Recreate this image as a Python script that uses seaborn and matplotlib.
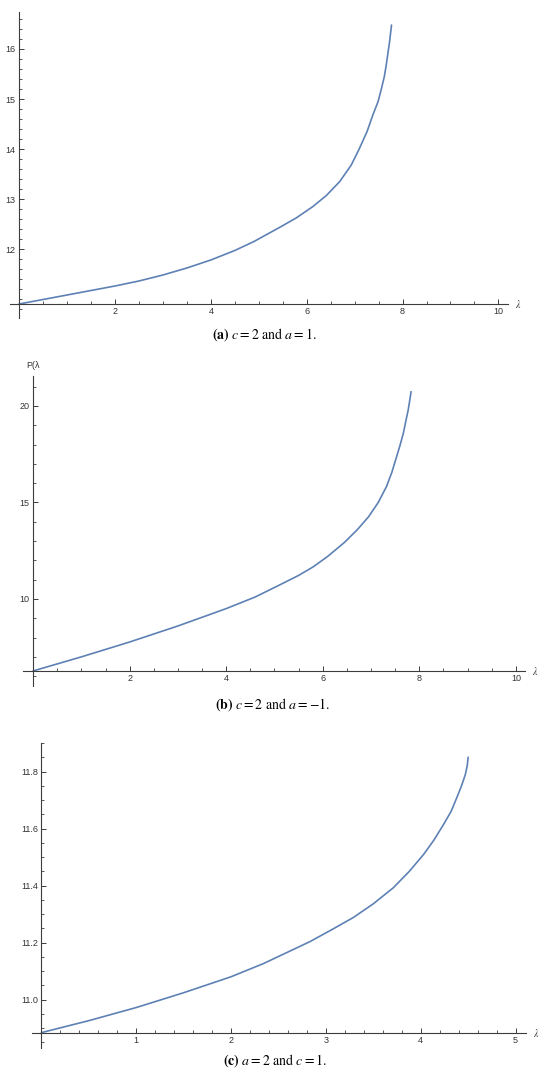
import matplotlib
matplotlib.use("Agg")
import matplotlib.pyplot as plt
import matplotlib.ticker as mticker
import matplotlib.transforms as mtransforms
import seaborn as sns

# Courbe (a) : c = 2, a = 1
lam_a = [0, 1, 2, 2.5, 3, 3.5, 4, 4.5, 4.9, 5.45, 5.78, 6.13, 6.41, 6.69, 6.93, 7.10, 7.26, 7.38,
         7.49, 7.56, 7.62, 7.66, 7.70, 7.73, 7.77]
p_a = [10.9, 11.08, 11.26, 11.36, 11.48, 11.62, 11.78, 11.97, 12.15, 12.44, 12.62, 12.85, 13.07,
       13.35, 13.68, 14.01, 14.35, 14.68, 14.95, 15.21, 15.45, 15.68, 15.95, 16.15, 16.48]

# Courbe (b) : c = 2, a = -1
lam_b = [0, 1, 2, 3, 4, 4.6, 5.11, 5.5, 5.80, 6.1, 6.45, 6.72, 6.95, 7.15, 7.32, 7.43, 7.53,
         7.60, 7.67, 7.72, 7.77, 7.80, 7.83]
p_b = [6.27, 7.0, 7.77, 8.6, 9.5, 10.1, 10.73, 11.22, 11.66, 12.2, 12.93, 13.6, 14.26, 15.0,
       15.82, 16.55, 17.37, 17.95, 18.59, 19.2, 19.79, 20.25, 20.74]

# Courbe (c) : a = 2, c = 1
lam_c = [0, 0.5, 1, 1.5, 2, 2.34, 2.83, 3.05, 3.29, 3.5, 3.71, 3.88, 4.03, 4.14, 4.24, 4.32,
         4.38, 4.43, 4.47, 4.49, 4.50]
p_c = [10.884, 10.926, 10.972, 11.024, 11.08, 11.126, 11.203, 11.243, 11.288, 11.336, 11.392,
       11.45, 11.509, 11.56, 11.614, 11.66, 11.708, 11.75, 11.789, 11.82, 11.85]

captions = [r"$\mathbf{(a)}\ c = 2\ \mathrm{and}\ a = 1.$",
            r"$\mathbf{(b)}\ c = 2\ \mathrm{and}\ a = -1.$",
            r"$\mathbf{(c)}\ a = 2\ \mathrm{and}\ c = 1.$"]

sns.set_theme(style="white")
plt.rcParams["font.family"] = ["Liberation Sans", "DejaVu Sans"]
plt.rcParams["mathtext.fontset"] = "stix"

W, H = 550, 1083
fig = plt.figure(figsize=(W / 100, H / 100), dpi=100)

line_color = "#5E81B5"
axis_color = "#3c3c3c"


def make_axes(left, right, top, bottom):
    return fig.add_axes([left / W, 1 - bottom / H, (right - left) / W, (bottom - top) / H])


panels = [
    dict(x=lam_a, y=p_a, box=(10, 508, 12, 318), xlim=(-0.19, 10.2), ylim=(10.62, 16.74), y0=10.9,
         xmaj=[2, 4, 6, 8, 10], xmin=0.5, ymaj=[12, 13, 14, 15, 16], ymin=0.2, fmt="%d", cap=(264, 335)),
    dict(x=lam_b, y=p_b, box=(23, 525, 376, 686), xlim=(-0.21, 10.19), ylim=(5.49, 21.55), y0=6.27,
         xmaj=[2, 4, 6, 8, 10], xmin=0.5, ymaj=[10, 15, 20], ymin=1, fmt="%d", cap=(273, 705)),
    dict(x=lam_c, y=p_c, box=(32, 526, 743, 1048), xlim=(-0.1, 5.11), ylim=(10.83, 11.90), y0=10.884,
         xmaj=[1, 2, 3, 4, 5], xmin=0.2, ymaj=[11.0, 11.2, 11.4, 11.6, 11.8], ymin=0.05, fmt="%.1f", cap=(275, 1061)),
]

for i, p in enumerate(panels):
    ax = make_axes(*p["box"])
    sns.lineplot(x=p["x"], y=p["y"], ax=ax, color=line_color, linewidth=1.2)
    ax.set_xlim(*p["xlim"])
    ax.set_ylim(*p["ylim"])

    for s in ["top", "right"]:
        ax.spines[s].set_visible(False)
    ax.spines["left"].set_position(("data", 0))
    ax.spines["bottom"].set_position(("data", p["y0"]))
    for s in ["left", "bottom"]:
        ax.spines[s].set_color(axis_color)
        ax.spines[s].set_linewidth(0.8)

    ax.xaxis.set_major_locator(mticker.FixedLocator(p["xmaj"]))
    ax.xaxis.set_minor_locator(mticker.MultipleLocator(p["xmin"]))
    ax.yaxis.set_major_locator(mticker.FixedLocator(p["ymaj"]))
    ax.yaxis.set_minor_locator(mticker.MultipleLocator(p["ymin"]))
    ax.xaxis.set_major_formatter(mticker.FormatStrFormatter("%d"))
    ax.yaxis.set_major_formatter(mticker.FormatStrFormatter(p["fmt"]))

    ax.tick_params(which="both", bottom=True, left=True, top=False, right=False)
    ax.tick_params(which="major", direction="in", length=3.5, width=0.7, colors=axis_color,
                   labelsize=6.5, labelcolor="#333333", pad=2.5)
    ax.tick_params(which="minor", direction="in", length=2, width=0.6, colors=axis_color)
    ax.set_xlabel("")
    ax.set_ylabel("")
    ax.grid(False)
    ax.patch.set_alpha(0)

    trans = mtransforms.blended_transform_factory(ax.transAxes, ax.transData)
    ax.annotate(r"$\lambda$", xy=(1, p["y0"]), xycoords=trans, xytext=(7, 0),
                textcoords="offset points", ha="center", va="center", fontsize=7, color="#333333")

    fig.text(p["cap"][0] / W, 1 - p["cap"][1] / H, captions[i], ha="center", va="center",
             fontsize=10, color="black")

# étiquette d'axe de la figure (b), tronquée comme dans l'original
fig.text(33 / W, 1 - 365 / H, "P(λ", ha="center", va="center", fontsize=6.5, color="#333333")

fig.savefig("out.png", dpi=100, facecolor="white")
